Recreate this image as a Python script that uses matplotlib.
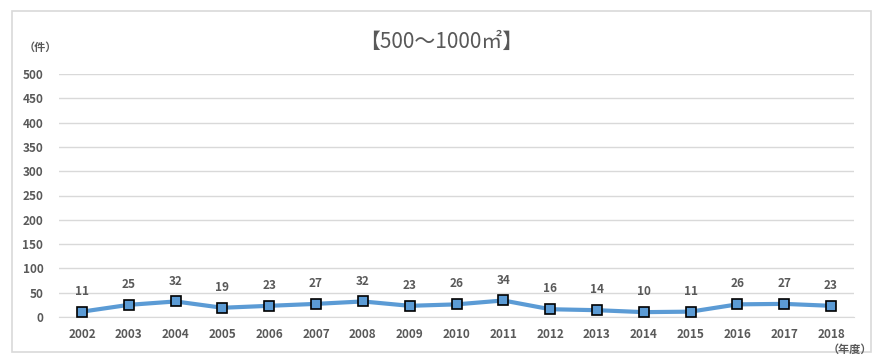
import matplotlib
matplotlib.use("Agg")
import matplotlib.pyplot as plt
from matplotlib.patches import Rectangle

plt.rcParams['font.family'] = ['Noto Sans CJK JP', 'DejaVu Sans']

years = ['2002', '2003', '2004', '2005', '2006', '2007', '2008', '2009', '2010',
         '2011', '2012', '2013', '2014', '2015', '2016', '2017', '2018']
counts = [11, 25, 32, 19, 23, 27, 32, 23, 26, 34, 16, 14, 10, 11, 26, 27, 23]
yticks = [0, 50, 100, 150, 200, 250, 300, 350, 400, 450, 500]

text_color = '#595959'
line_color = '#5b9bd5'

fig = plt.figure(figsize=(8.72, 3.57), dpi=100)
fig.patch.set_facecolor('white')
fig.patches.append(Rectangle((12/872, 1-352/357), (871-12)/872, (352-11)/357,
                             transform=fig.transFigure, fill=False,
                             edgecolor='#d9d9d9', linewidth=1.2))

ax = fig.add_axes([58.6/872, 1-317/357, (854.4-58.6)/872, (317-74)/357])
x = list(range(len(years)))
ax.plot(x, counts, color=line_color, linewidth=3, marker='s', markersize=7,
        markerfacecolor=line_color, markeredgecolor='black', markeredgewidth=1.2,
        solid_capstyle='round', zorder=3)
for xi, v in zip(x, counts):
    ax.annotate(str(v), (xi, v), xytext=(0, 10), textcoords='offset points',
                ha='center', va='bottom', fontsize=8.5, fontweight='bold',
                color=text_color)

ax.set_xlim(-0.5, len(years) - 0.5)
ax.set_ylim(0, 500)
ax.set_yticks(yticks)
ax.set_xticks(x)
ax.set_xticklabels(years)
ax.grid(axis='y', color='#d9d9d9', linewidth=1)
ax.set_axisbelow(True)
for s in ['top', 'right', 'left']:
    ax.spines[s].set_visible(False)
ax.spines['bottom'].set_color('#d9d9d9')
ax.tick_params(axis='both', length=0, labelsize=8.5, colors=text_color)
ax.tick_params(axis='y', pad=11)
ax.tick_params(axis='x', pad=8)
for lbl in ax.get_xticklabels() + ax.get_yticklabels():
    lbl.set_fontweight('bold')

fig.text(441/872, 1-42/357, '【500～1000㎡】', ha='center', va='center',
         fontsize=15, color=text_color)
fig.text(40/872, 1-47/357, '（件）', ha='center', va='center',
         fontsize=8, fontweight='bold', color=text_color)
fig.text(850/872, 1-349/357, '（年度）', ha='center', va='center',
         fontsize=8, fontweight='bold', color=text_color)

fig.savefig('out.png', dpi=100)
